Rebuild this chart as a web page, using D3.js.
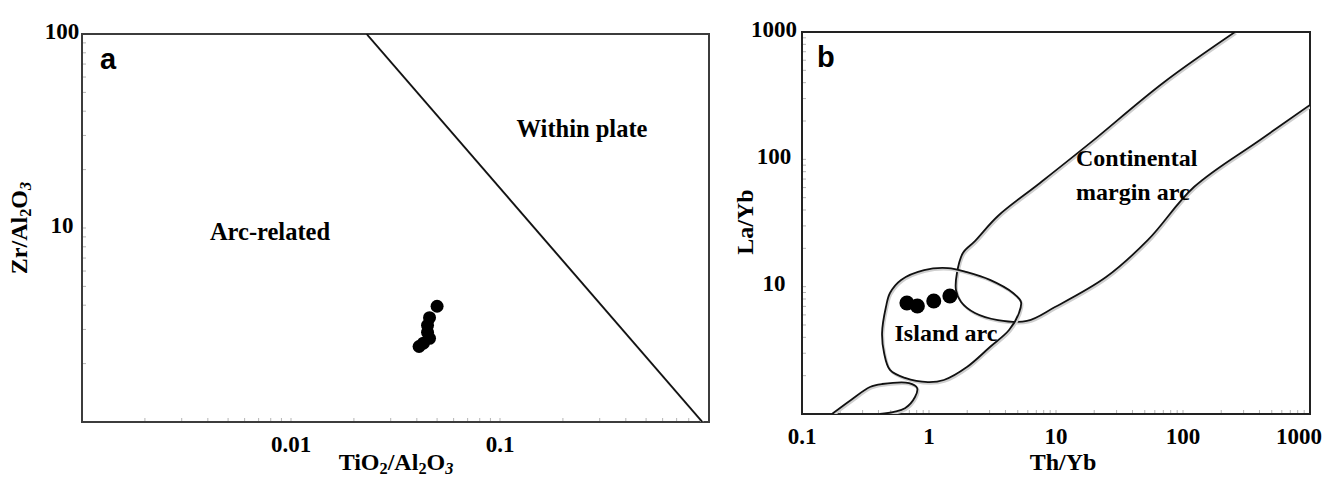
<!DOCTYPE html>
<html>
<head>
<meta charset="utf-8">
<script src="https://cdn.jsdelivr.net/npm/d3@7"></script>
<style>
  body { margin: 0; background: #fff; }
  svg { display: block; }
</style>
</head>
<body>
<svg id="chart" width="1323" height="480"></svg>
<script>
// ---------- Panel a: Zr/Al2O3 vs TiO2/Al2O3 ----------
const tiAl = [0.050, 0.046, 0.045, 0.045, 0.046, 0.043, 0.041];
const zrAl = [3.95, 3.45, 3.15, 2.90, 2.70, 2.55, 2.45];
const aBoundaryX = [0.023, 0.93];
const aBoundaryY = [100, 1];
const aXTickLabels = [0.01, 0.1];
const aYTickLabels = [10, 100];

// ---------- Panel b: La/Yb vs Th/Yb ----------
const thYb = [0.67, 0.81, 1.09, 1.46];
const laYb = [7.45, 7.05, 7.72, 8.45];

// Island arc field (closed outline)
const islandX = [1.41, 0.915, 0.603, 0.493, 0.458, 0.427, 0.443, 0.493, 0.647, 0.98, 1.31, 1.99, 3.02, 4.27, 5.11, 5.30, 4.59, 3.02, 1.99];
const islandY = [14.0, 13.5, 11.3, 8.92, 6.92, 4.33, 3.01, 2.22, 1.92, 1.78, 1.85, 2.34, 3.36, 4.57, 6.21, 7.58, 8.92, 11.3, 13.0];

// Continental margin arc field (open outline, runs off the top and right edges)
const contX = [256.6, 69.6, 18.5, 7.48, 3.49, 2.30, 1.85, 1.66, 1.63, 1.79, 2.30, 3.49, 5.91, 9.82, 24.8, 53.0, 122, 404, 1000];
const contY = [1000, 398, 134, 65.2, 35.9, 22.8, 18.4, 12.8, 9.42, 7.58, 6.21, 5.47, 5.38, 6.92, 11.9, 23.3, 60.6, 142, 267];

// Small field at the lower-left corner (open outline on the bottom edge)
const lowX = [0.172, 0.243, 0.343, 0.427, 0.697, 0.806, 0.776, 0.647, 0.530, 0.411];
const lowY = [1.0, 1.29, 1.63, 1.72, 1.75, 1.60, 1.36, 1.11, 1.04, 1.0];

const bXTickLabels = [0.1, 1, 10, 100, 1000];
const bYTickLabels = [10, 100, 1000];

// ---------- drawing ----------
const W = 1323;
const svg = d3.select("#chart");
const SERIF = "'Liberation Serif', 'Times New Roman', serif";
const SANS = "'Liberation Sans', Arial, sans-serif";

function logSubTicks(lo, hi) {
  const out = [];
  for (let e = Math.round(Math.log10(lo)); e < Math.round(Math.log10(hi)); e++) {
    for (let k = 1; k < 10; k++) out.push(+(k * Math.pow(10, e)).toPrecision(6));
  }
  out.push(hi);
  return out;
}

function fmt(v) { return v >= 1 ? String(v) : String(+v.toPrecision(3)); }

// writes chemical formula text with subscripts into a text selection
function formula(sel, parts, size) {
  let shift = 0;
  parts.forEach(p => {
    const target = p.sub ? 4 : 0;
    const t = sel.append("tspan").text(p.t)
      .attr("dy", target - shift)
      .attr("font-size", p.sub ? size * 0.68 : size);
    if (p.italic) t.attr("font-style", "italic");
    shift = target;
  });
}

function panel(cfg) {
  const g = svg.append("g");
  const x = d3.scaleLog().domain(cfg.xDomain).range([cfg.left, cfg.right]);
  const y = d3.scaleLog().domain(cfg.yDomain).range([cfg.bottom, cfg.top]);

  const clipId = "clip-" + cfg.name;
  svg.append("clipPath").attr("id", clipId)
    .append("rect").attr("x", cfg.left).attr("y", cfg.top)
    .attr("width", cfg.right - cfg.left).attr("height", cfg.bottom - cfg.top);

  // minor ticks along bottom and left edges
  const xt = logSubTicks(cfg.xDomain[0], cfg.xDomain[1]);
  const yt = logSubTicks(cfg.yDomain[0], cfg.yDomain[1]);
  g.selectAll(".xt").data(xt).join("line")
    .attr("x1", d => x(d)).attr("x2", d => x(d))
    .attr("y1", cfg.bottom).attr("y2", cfg.bottom - 4)
    .attr("stroke", "#b5b5b5").attr("stroke-width", 1);
  g.selectAll(".yt").data(yt).join("line")
    .attr("y1", d => y(d)).attr("y2", d => y(d))
    .attr("x1", cfg.left).attr("x2", cfg.left + 4)
    .attr("stroke", "#b5b5b5").attr("stroke-width", 1);

  // frame
  g.append("rect")
    .attr("x", cfg.left).attr("y", cfg.top)
    .attr("width", cfg.right - cfg.left).attr("height", cfg.bottom - cfg.top)
    .attr("fill", "none").attr("stroke", cfg.frameColor).attr("stroke-width", 2);

  // tick labels
  g.selectAll(".xl").data(cfg.xLabels).join("text")
    .attr("x", d => x(d)).attr("y", cfg.bottom + 30)
    .attr("text-anchor", "middle")
    .attr("font-family", SERIF).attr("font-weight", "bold").attr("font-size", 23)
    .text(fmt)
    .each(function () {
      // keep the outermost label inside the page
      const b = this.getBBox();
      if (b.x + b.width > W - 1) {
        d3.select(this).attr("text-anchor", "end").attr("x", W - 1);
      }
    });
  g.selectAll(".yl").data(cfg.yLabels).join("text")
    .attr("x", cfg.yLabelX).attr("y", d => y(d) + cfg.yLabelDy)
    .attr("dominant-baseline", "central")
    .attr("text-anchor", "middle")
    .attr("font-family", SERIF).attr("font-weight", "bold").attr("font-size", 23)
    .text(fmt);

  const plot = g.append("g").attr("clip-path", `url(#${clipId})`);
  return { g, plot, x, y };
}

function strokeOutline(plot, pts, path) {
  plot.append("path").attr("d", path(pts))
    .attr("fill", "none").attr("stroke", "#cfcfcf").attr("stroke-width", 2.2)
    .attr("transform", "translate(1.2,1.6)");
  plot.append("path").attr("d", path(pts))
    .attr("fill", "none").attr("stroke", "#111").attr("stroke-width", 1.8);
}

function label(g, x, y, text, size, anchor) {
  return g.append("text").attr("x", x).attr("y", y).attr("text-anchor", anchor || "middle")
    .attr("font-family", SERIF).attr("font-weight", "bold").attr("font-size", size).text(text);
}

// ----- panel a -----
const A = panel({
  name: "a", xDomain: [0.001, 1], yDomain: [1, 100],
  left: 82, right: 709, top: 34, bottom: 422,
  xLabels: aXTickLabels, yLabels: aYTickLabels,
  yLabelX: 62, yLabelDy: -3, frameColor: "#3c3c3c"
});
{
  const pts = aBoundaryX.map((v, i) => [v, aBoundaryY[i]]);
  const line = d3.line().x(d => A.x(d[0])).y(d => A.y(d[1]));
  strokeOutline(A.plot, pts, line);
  A.plot.selectAll("circle").data(tiAl.map((v, i) => [v, zrAl[i]])).join("circle")
    .attr("cx", d => A.x(d[0])).attr("cy", d => A.y(d[1])).attr("r", 6.5)
    .attr("fill", "#000");

  A.g.append("text").attr("x", 100).attr("y", 69)
    .attr("font-family", SANS).attr("font-weight", "bold").attr("font-size", 29).text("a");
  label(A.g, 270, 240, "Arc-related", 24.5);
  label(A.g, 582, 137, "Within plate", 24.5);

  const xt = A.g.append("text").attr("x", 396).attr("y", 470).attr("text-anchor", "middle")
    .attr("font-family", SERIF).attr("font-weight", "bold").attr("font-size", 24);
  formula(xt, [{t: "TiO"}, {t: "2", sub: true}, {t: "/Al"}, {t: "2", sub: true}, {t: "O"}, {t: "3", sub: true, italic: true}], 24);

  const yt = A.g.append("text").attr("transform", "translate(27,228) rotate(-90)")
    .attr("text-anchor", "middle")
    .attr("font-family", SERIF).attr("font-weight", "bold").attr("font-size", 24);
  formula(yt, [{t: "Zr/Al"}, {t: "2", sub: true}, {t: "O"}, {t: "3", sub: true, italic: true}], 24);
}

// ----- panel b -----
const B = panel({
  name: "b", xDomain: [0.1, 1000], yDomain: [1, 1000],
  left: 802, right: 1310, top: 32, bottom: 414,
  xLabels: bXTickLabels, yLabels: bYTickLabels,
  yLabelX: 774, yLabelDy: -3, frameColor: "#222"
});
{
  const open = d3.line().curve(d3.curveCatmullRom.alpha(0.5))
    .x(d => B.x(d[0])).y(d => B.y(d[1]));
  const closed = d3.line().curve(d3.curveCatmullRomClosed.alpha(0.5))
    .x(d => B.x(d[0])).y(d => B.y(d[1]));

  strokeOutline(B.plot, contX.map((v, i) => [v, contY[i]]), open);
  strokeOutline(B.plot, islandX.map((v, i) => [v, islandY[i]]), closed);
  strokeOutline(B.plot, lowX.map((v, i) => [v, lowY[i]]), open);

  B.plot.selectAll("circle").data(thYb.map((v, i) => [v, laYb[i]])).join("circle")
    .attr("cx", d => B.x(d[0])).attr("cy", d => B.y(d[1])).attr("r", 7.5)
    .attr("fill", "#000");

  B.g.append("text").attr("x", 817).attr("y", 67)
    .attr("font-family", SANS).attr("font-weight", "bold").attr("font-size", 29).text("b");
  label(B.g, 946, 341, "Island arc", 24);
  label(B.g, 1076, 166, "Continental", 24, "start");
  label(B.g, 1076, 200, "margin arc", 24, "start");

  label(B.g, 1063, 470, "Th/Yb", 24);
  B.g.append("text").attr("transform", "translate(753,222) rotate(-90)")
    .attr("text-anchor", "middle")
    .attr("font-family", SERIF).attr("font-weight", "bold").attr("font-size", 24).text("La/Yb");
}
</script>
</body>
</html>
